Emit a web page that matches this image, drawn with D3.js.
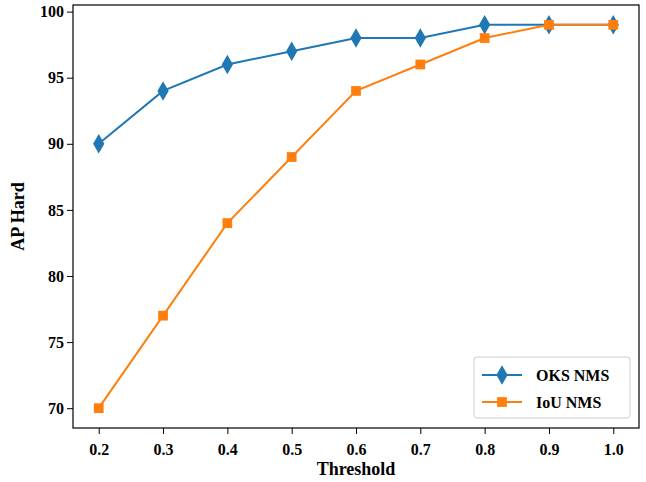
<!DOCTYPE html>
<html><head><meta charset="utf-8">
<script src="https://cdn.jsdelivr.net/npm/d3@7"></script>
<style>body{margin:0;background:#fff}text{font-family:"Liberation Serif","DejaVu Serif",serif;font-weight:bold}</style>
</head><body><svg id="chart"></svg>
<script>
const width = 646, height = 482;
const m = {left: 73, right: 7, top: 5, bottom: 54};
const svg = d3.select("#chart").attr("width", width).attr("height", height);

const thresholds = [0.2, 0.3, 0.4, 0.5, 0.6, 0.7, 0.8, 0.9, 1.0];
const series = [
    {name: "OKS NMS", color: "#1f77b4", shape: "diamond", values: [90, 94, 96, 97, 98, 98, 99, 99, 99]},
    {name: "IoU NMS", color: "#ff7f0e", shape: "square", values: [70, 77, 84, 89, 94, 96, 98, 99, 99]}
];

const x = d3.scaleLinear().domain([0.16, 1.04]).range([m.left, width - m.right]);
const y = d3.scaleLinear().domain([68.5, 100.5]).range([height - m.bottom, m.top]);

const xAxis = svg.append("g").attr("transform", `translate(0,${height - m.bottom})`)
    .call(d3.axisBottom(x).tickValues(thresholds).tickFormat(d3.format(".1f")).tickSizeOuter(0));
const yAxis = svg.append("g").attr("transform", `translate(${m.left},0)`)
    .call(d3.axisLeft(y).tickValues([70, 75, 80, 85, 90, 95, 100]).tickSizeOuter(0));
[xAxis, yAxis].forEach(a => {
    a.selectAll("text").style("font-size", "16px").attr("fill", "#000");
    a.selectAll("line").attr("stroke", "#000");
    a.select(".domain").remove();
});
xAxis.selectAll("text").attr("dy", "1.1em");

svg.append("rect").attr("x", m.left).attr("y", m.top)
    .attr("width", width - m.left - m.right).attr("height", height - m.top - m.bottom)
    .attr("fill", "none").attr("stroke", "#000").attr("stroke-width", 1.2);

svg.append("text").attr("x", (m.left + width - m.right) / 2).attr("y", 475)
    .attr("text-anchor", "middle").style("font-size", "18px").text("Threshold");
svg.append("text").attr("transform", `translate(24,${(m.top + height - m.bottom) / 2}) rotate(-90)`)
    .attr("text-anchor", "middle").style("font-size", "18px").text("AP Hard");

const line = d3.line().x((d, i) => x(thresholds[i])).y(d => y(d));
const sym = {diamond: d3.symbol(d3.symbolDiamond, 110), square: d3.symbol(d3.symbolSquare, 95)};

series.forEach(s => {
    svg.append("path").datum(s.values).attr("d", line)
        .attr("fill", "none").attr("stroke", s.color).attr("stroke-width", 2);
    svg.selectAll(null).data(s.values).enter().append("path")
        .attr("d", sym[s.shape]())
        .attr("transform", (d, i) => `translate(${x(thresholds[i])},${y(d)})`)
        .attr("fill", s.color);
});

// Legend
const legend = svg.append("g").attr("transform", "translate(474,357)");
legend.append("rect").attr("width", 156).attr("height", 61).attr("rx", 3)
    .attr("fill", "#fff").attr("fill-opacity", 0.8).attr("stroke", "#ccc");
series.forEach((s, i) => {
    const g = legend.append("g").attr("transform", `translate(0,${18 + i * 27})`);
    g.append("line").attr("x1", 8).attr("x2", 48).attr("stroke", s.color).attr("stroke-width", 2);
    g.append("path").attr("d", sym[s.shape]()).attr("transform", "translate(28,0)").attr("fill", s.color);
    g.append("text").attr("x", 62).attr("dy", "0.35em").style("font-size", "16px").text(s.name);
});
</script></body></html>
